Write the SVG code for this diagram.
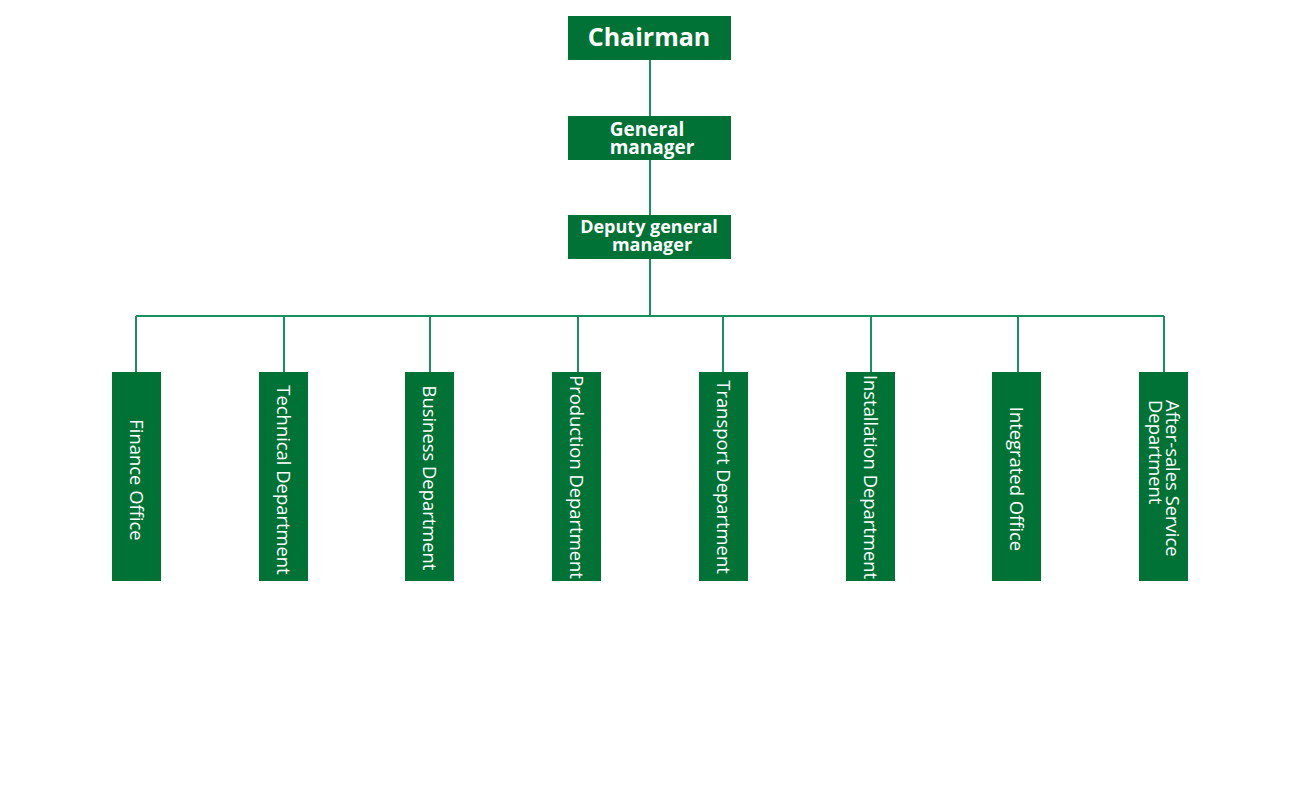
<svg xmlns="http://www.w3.org/2000/svg" width="1300" height="800" viewBox="0 0 1300 800">
<style>
.box{fill:#007236}
.conn{stroke:#1a9060;stroke-width:2;fill:none}
.t{fill:#ffffff;font-family:"Open Sans","Noto Sans",sans-serif}
.hb{font-weight:bold;text-anchor:middle}
.dept{font-size:18.4px;text-anchor:middle;dominant-baseline:central}
</style>
<rect width="1300" height="800" fill="#ffffff"/>
<g id="connectors">
<path class="conn" d="M650 60V116M650 160V215M650 259V316M136 316H1164M136 316V372M284 316V372M430 316V372M578 316V372M723 316V372M871 316V372M1018 316V372M1164 316V372"/>
</g>
<g id="chairman"><rect class="box" x="568" y="16" width="163" height="44"/><text class="t hb" x="649" y="46" font-size="25">Chairman</text></g>
<g id="general-manager"><rect class="box" x="568" y="116" width="163" height="44"/><text class="t hb" x="647" y="136" font-size="19">General</text><text class="t hb" x="652" y="154" font-size="19">manager</text></g>
<g id="deputy-general-manager"><rect class="box" x="568" y="215" width="163" height="44"/><text class="t hb" x="649" y="233" font-size="18">Deputy general</text><text class="t hb" x="652" y="251" font-size="18">manager</text></g>
<g id="finance-office"><rect class="box" x="112" y="372" width="49" height="209"/><text class="t dept" x="137" y="480" transform="rotate(90 137 480)">Finance Office</text></g>
<g id="technical-department"><rect class="box" x="259" y="372" width="49" height="209"/><text class="t dept" x="284" y="480" transform="rotate(90 284 480)">Technical Department</text></g>
<g id="business-department"><rect class="box" x="405" y="372" width="49" height="209"/><text class="t dept" x="430" y="478" transform="rotate(90 430 478)">Business Department</text></g>
<g id="production-department"><rect class="box" x="552" y="372" width="49" height="209"/><text class="t dept" x="577" y="477" transform="rotate(90 577 477)">Production Department</text></g>
<g id="transport-department"><rect class="box" x="699" y="372" width="49" height="209"/><text class="t dept" x="724" y="477" transform="rotate(90 724 477)">Transport Department</text></g>
<g id="installation-department"><rect class="box" x="846" y="372" width="49" height="209"/><text class="t dept" x="871" y="477" transform="rotate(90 871 477)">Installation Department</text></g>
<g id="integrated-office"><rect class="box" x="992" y="372" width="49" height="209"/><text class="t dept" x="1017" y="479" transform="rotate(90 1017 479)">Integrated Office</text></g>
<g id="after-sales-service-department"><rect class="box" x="1139" y="372" width="49" height="209"/><g transform="rotate(90 1164 400)"><text class="t" x="1164" y="400" font-size="18.4" dy="-2">After-sales Service</text><text class="t" x="1164" y="400" font-size="18.4" dy="15">Department</text></g></g>
</svg>
